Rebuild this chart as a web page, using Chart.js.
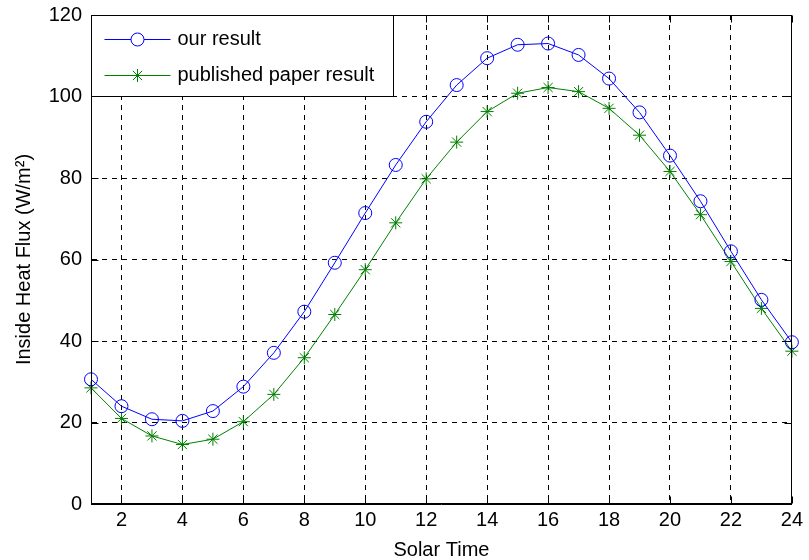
<!DOCTYPE html>
<html>
<head>
<meta charset="utf-8">
<script src="https://cdn.jsdelivr.net/npm/chart.js@4/dist/chart.umd.min.js"></script>
<style>
  html, body { margin: 0; padding: 0; background: #fff; }
  #wrap { width: 809px; height: 560px; }
</style>
</head>
<body>
<div id="wrap"><canvas id="chart" width="809" height="560"></canvas></div>
<script>
const hours = [1, 2, 3, 4, 5, 6, 7, 8, 9, 10, 11, 12, 13, 14, 15, 16, 17, 18, 19, 20, 21, 22, 23, 24];
const ourResult = [30.6, 24.0, 20.8, 20.4, 22.8, 28.8, 37.1, 47.2, 59.2, 71.4, 83.2, 93.8, 102.8, 109.4, 112.7, 113.0, 110.2, 104.4, 96.1, 85.5, 74.3, 62.0, 50.1, 39.7];
const paperResult = [28.5, 21.0, 16.7, 14.6, 15.9, 20.2, 26.9, 35.9, 46.5, 57.5, 69.0, 79.8, 88.8, 96.3, 100.8, 102.2, 101.2, 97.1, 90.5, 81.6, 71.0, 59.5, 48.0, 37.5];
const xTicks = [2, 4, 6, 8, 10, 12, 14, 16, 18, 20, 22, 24];
const yTicks = [0, 20, 40, 60, 80, 100, 120];
const seriesNames = ['our result', 'published paper result'];

const FONT = { family: '"Liberation Sans", Arial, sans-serif', size: 20, lineHeight: 1 };

// axes box with inward ticks (matlab style), drawn over the data
const frame = {
  id: 'frame',
  afterDatasetsDraw(c) {
    const { ctx, chartArea: a, scales } = c;
    const L = Math.round(a.left) + 0.5, R = Math.round(a.right) - 0.5;
    const T = Math.round(a.top) + 0.5, B = Math.round(a.bottom) - 0.5;
    ctx.save();
    ctx.strokeStyle = '#000';
    ctx.lineWidth = 1;
    ctx.setLineDash([]);
    ctx.strokeRect(L, T, R - L, B - T);
    ctx.beginPath();
    scales.x.ticks.forEach(t => {
      const x = Math.round(scales.x.getPixelForValue(t.value)) + 0.5;
      ctx.moveTo(x, B); ctx.lineTo(x, B - 7);
      ctx.moveTo(x, T); ctx.lineTo(x, T + 7);
    });
    scales.y.ticks.forEach(t => {
      const y = Math.round(scales.y.getPixelForValue(t.value)) + 0.5;
      ctx.moveTo(L, y); ctx.lineTo(L + 7, y);
      ctx.moveTo(R, y); ctx.lineTo(R - 7, y);
    });
    ctx.stroke();
    ctx.restore();
  }
};

// legend box in the top-left corner of the axes
const boxLegend = {
  id: 'boxLegend',
  afterDraw(c) {
    const { ctx, chartArea: a } = c;
    const x0 = Math.round(a.left) + 0.5, y0 = Math.round(a.top) + 0.5;
    ctx.save();
    ctx.fillStyle = '#fff';
    ctx.strokeStyle = '#000';
    ctx.lineWidth = 1;
    ctx.fillRect(x0, y0, 302, 81);
    ctx.strokeRect(x0, y0, 302, 81);
    c.data.datasets.forEach((ds, i) => {
      const y = Math.round(y0 + 23 + i * 36) + 0.5;
      ctx.strokeStyle = ds.borderColor;
      ctx.lineWidth = 1;
      ctx.beginPath();
      ctx.moveTo(x0 + 13, y);
      ctx.lineTo(x0 + 79, y);
      ctx.stroke();
      ctx.fillStyle = '#fff';
      Chart.helpers.drawPoint(ctx, {
        pointStyle: ds.pointStyle, radius: ds.pointRadius, rotation: 0,
        borderWidth: ds.pointBorderWidth
      }, x0 + 46, y);
      ctx.fillStyle = '#000';
      ctx.font = '20px "Liberation Sans", Arial, sans-serif';
      ctx.textBaseline = 'middle';
      ctx.fillText(ds.label, x0 + 86, y);
    });
    ctx.restore();
  }
};

const grid = {
  color: '#000',
  lineWidth: 1,
  drawTicks: false
};
const border = { display: true, color: '#000', width: 1, dash: [5, 5] };

new Chart(document.getElementById('chart'), {
  type: 'line',
  data: {
    datasets: [
      {
        label: seriesNames[0],
        data: hours.map((h, i) => ({ x: h, y: ourResult[i] })),
        borderColor: '#0000ff',
        backgroundColor: 'rgba(0,0,0,0)',
        pointBackgroundColor: 'rgba(0,0,0,0)',
        pointBorderColor: '#0000ff',
        pointStyle: 'circle',
        pointRadius: 6.5,
        pointBorderWidth: 1,
        borderWidth: 1,
        tension: 0,
        clip: false
      },
      {
        label: seriesNames[1],
        data: hours.map((h, i) => ({ x: h, y: paperResult[i] })),
        borderColor: '#008000',
        backgroundColor: 'rgba(0,0,0,0)',
        pointBorderColor: '#008000',
        pointStyle: 'star',
        pointRadius: 6.5,
        pointBorderWidth: 1,
        borderWidth: 1,
        tension: 0,
        clip: false
      }
    ]
  },
  options: {
    responsive: false,
    animation: false,
    devicePixelRatio: 1,
    layout: { padding: { top: 15, right: 10, left: 0, bottom: 0 } },
    plugins: {
      legend: { display: false },
      tooltip: { enabled: false }
    },
    scales: {
      x: {
        type: 'linear',
        min: 1,
        max: 24,
        afterBuildTicks: s => { s.ticks = xTicks.map(v => ({ value: v })); },
        afterFit: s => { s.height = 56; },
        grid: { ...grid },
        border: { ...border },
        ticks: { color: '#000', font: FONT, padding: 6, maxRotation: 0 },
        title: { display: true, text: 'Solar Time', color: '#000', font: FONT, padding: { top: 0, bottom: 0 } }
      },
      y: {
        min: 0,
        max: 120,
        afterBuildTicks: s => { s.ticks = yTicks.map(v => ({ value: v })); },
        afterFit: s => { s.width = 91; s.paddingTop = 0; s.paddingBottom = 0; },
        grid: { ...grid },
        border: { ...border },
        ticks: { color: '#000', font: FONT, padding: 9 },
        title: { display: true, text: 'Inside Heat Flux (W/m\u00B2)', color: '#000', font: FONT, padding: { top: 14, bottom: 0 } }
      }
    }
  },
  plugins: [frame, boxLegend]
});
</script>
</body>
</html>
